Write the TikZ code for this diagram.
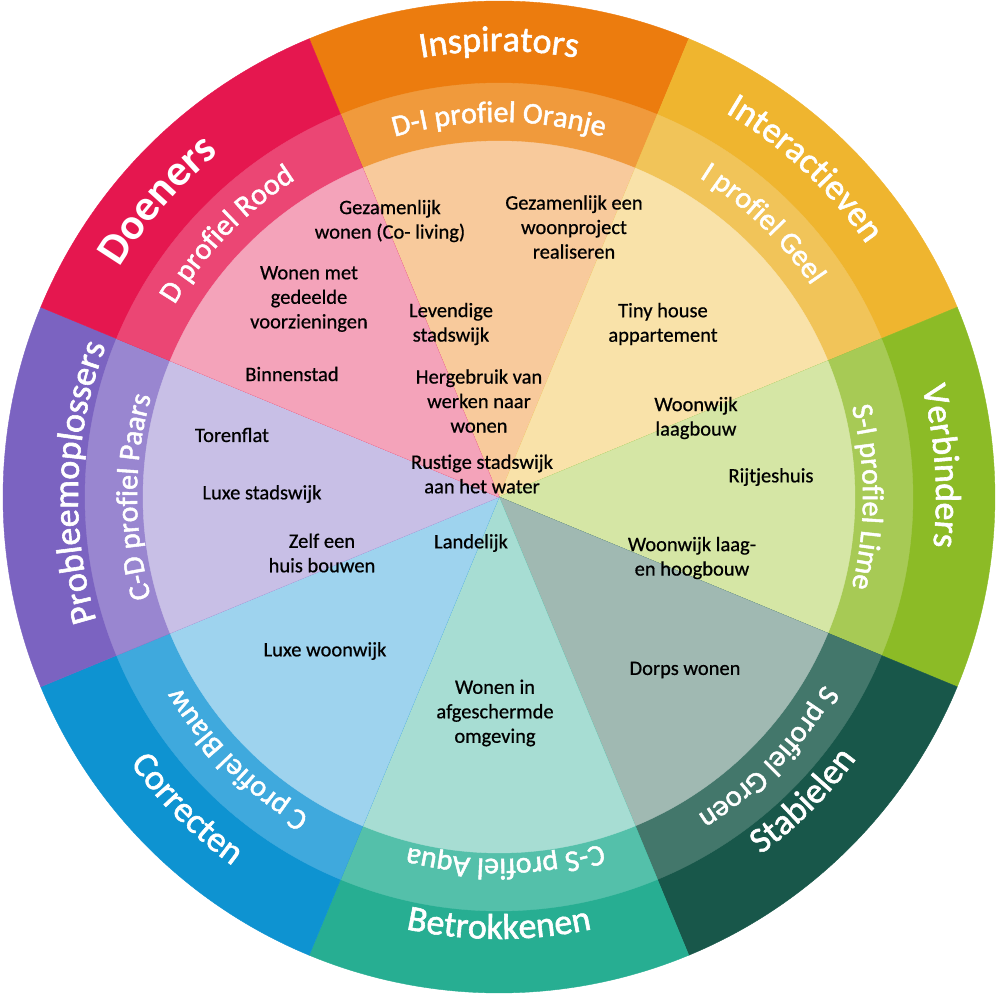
\documentclass[tikz,border=0pt]{standalone}
\usepackage{fontspec}
\setmainfont{Carlito}
\newfontfamily\lblfamily[FakeBold=1.6]{Carlito}
\newfontfamily\itemfamily[FakeBold=0.6]{Carlito}
\usetikzlibrary{decorations.text}

\definecolor{redA}{HTML}{E5174F}\definecolor{redB}{HTML}{EB4674}\definecolor{redC}{HTML}{F4A3BA}
\definecolor{oraA}{HTML}{EC7C0E}\definecolor{oraB}{HTML}{F09A3C}\definecolor{oraC}{HTML}{F8CA9C}
\definecolor{yelA}{HTML}{EFB52F}\definecolor{yelB}{HTML}{F1C459}\definecolor{yelC}{HTML}{F9E2A9}
\definecolor{limA}{HTML}{8CBB26}\definecolor{limB}{HTML}{A7CA55}\definecolor{limC}{HTML}{D5E6A5}
\definecolor{grnA}{HTML}{18574A}\definecolor{grnB}{HTML}{43776B}\definecolor{grnC}{HTML}{A0B9B2}
\definecolor{aquA}{HTML}{27AE92}\definecolor{aquB}{HTML}{54C0AA}\definecolor{aquC}{HTML}{A7DDD3}
\definecolor{bluA}{HTML}{0E93D1}\definecolor{bluB}{HTML}{3FA9DD}\definecolor{bluC}{HTML}{9ED3EE}
\definecolor{purA}{HTML}{7B63C1}\definecolor{purB}{HTML}{9986D0}\definecolor{purC}{HTML}{C8BFE6}

\newcommand\outerfont{\lblfamily\fontsize{36}{40}\selectfont\color{white}}
\newcommand\bigfont{\bfseries\fontsize{44}{48}\selectfont\color{white}}
\newcommand\midfont{\lblfamily\fontsize{30}{34}\selectfont\color{white}}

% clockwise label (tops outward): centre angle, baseline radius, format, text
\newcommand\cwlabel[4]{%
  \path[decorate, decoration={text along path, text align=center, text={|#3|#4}}]
    ({#1+40}:#2) arc[start angle={#1+40}, end angle={#1-40}, radius=#2];}
% counter-clockwise label (tops inward)
\newcommand\ccwlabel[4]{%
  \path[decorate, decoration={text along path, text align=center, text={|#3|#4}}]
    ({#1-40}:#2) arc[start angle={#1-40}, end angle={#1+40}, radius=#2];}

\tikzset{
  itemtext/.style={font=\itemfamily\fontsize{20.5}{24.5}\selectfont, align=center, inner sep=0pt, text=black},
}

\begin{document}
\begin{tikzpicture}[x=1pt,y=1pt]
\useasboundingbox (-499,-498) rectangle (498,497);

% sectors: centre angle / outer / middle / inner colour
\foreach \c/\o/\m/\i in {90/oraA/oraB/oraC, 45/yelA/yelB/yelC, 0/limA/limB/limC,
   -45/grnA/grnB/grnC, -90/aquA/aquB/aquC, -135/bluA/bluB/bluC,
   180/purA/purB/purC, 135/redA/redB/redC}{
  \filldraw[fill=\o, draw=\o, line width=0.4pt] (0,0) -- ({\c+22.5}:496)
     arc[start angle={\c+22.5}, end angle={\c-22.5}, radius=496] -- cycle;
  \filldraw[fill=\m, draw=\m, line width=0.4pt] (0,0) -- ({\c+22.5}:414)
     arc[start angle={\c+22.5}, end angle={\c-22.5}, radius=414] -- cycle;
  \filldraw[fill=\i, draw=\i, line width=0.4pt] (0,0) -- ({\c+22.5}:356)
     arc[start angle={\c+22.5}, end angle={\c-22.5}, radius=356] -- cycle;
}

% outer labels
\cwlabel{139}{443}{\bigfont}{Doeners}
\cwlabel{90}{446}{\outerfont}{Inspirators}
\cwlabel{47}{446}{\outerfont}{Interactieven}
\cwlabel{4}{437}{\outerfont}{Verbinders}
\ccwlabel{-45}{443}{\outerfont}{Stabielen}
\ccwlabel{270}{442}{\outerfont}{Betrokkenen}
\ccwlabel{225}{455}{\outerfont}{Correcten}
\cwlabel{178}{421}{\outerfont}{Probleemoplossers}

% middle labels
\cwlabel{136}{377}{\midfont}{D profiel Rood}
\cwlabel{90}{375}{\midfont}{D-I profiel Oranje}
\cwlabel{46}{377}{\midfont}{I profiel Geel}
\cwlabel{0}{364}{\midfont}{S-I profiel Lime}
\cwlabel{-44}{375}{\midfont}{S profiel Groen}
\cwlabel{-89}{362}{\midfont}{C-S profiel Aqua}
\cwlabel{225}{371}{\midfont}{C profiel Blauw}
\cwlabel{180}{362}{\midfont}{C-D profiel Paars}

% inner items
\node[itemtext] (n1) at (-109,276) {Gezamenlijk\\wonen (Co- living)};
\node[itemtext] (n2) at (75,270) {Gezamenlijk een\\woonproject\\realiseren};
\node[itemtext] (n3) at (-190,198) {Wonen met\\gedeelde\\voorzieningen};
\node[itemtext] (n4) at (-48,173) {Levendige\\stadswijk};
\node[itemtext] (n5) at (164,173) {Tiny house\\appartement};
\node[itemtext] (n6) at (-207,123) {Binnenstad};
\node[itemtext] (n7) at (-20,96) {Hergebruik van\\werken naar\\wonen};
\node[itemtext] (n8) at (197,79) {Woonwijk\\laagbouw};
\node[itemtext] (n9) at (-17,23) {Rustige stadswijk\\aan het water};
\node[itemtext] (n10) at (272,20) {Rijtjeshuis};
\node[itemtext] (n11) at (-267,62) {Torenflat};
\node[itemtext] (n12) at (-237,3) {Luxe stadswijk};
\node[itemtext] (n13) at (-177,-56) {Zelf een\\huis bouwen};
\node[itemtext] (n14) at (-28,-46) {Landelijk};
\node[itemtext] (n15) at (193,-61) {Woonwijk laag-\\en hoogbouw};
\node[itemtext] (n16) at (-174,-154) {Luxe woonwijk};
\node[itemtext] (n17) at (186,-173) {Dorps wonen};
\node[itemtext] (n18) at (-4,-216) {Wonen in\\afgeschermde\\omgeving};
\end{tikzpicture}
\end{document}
